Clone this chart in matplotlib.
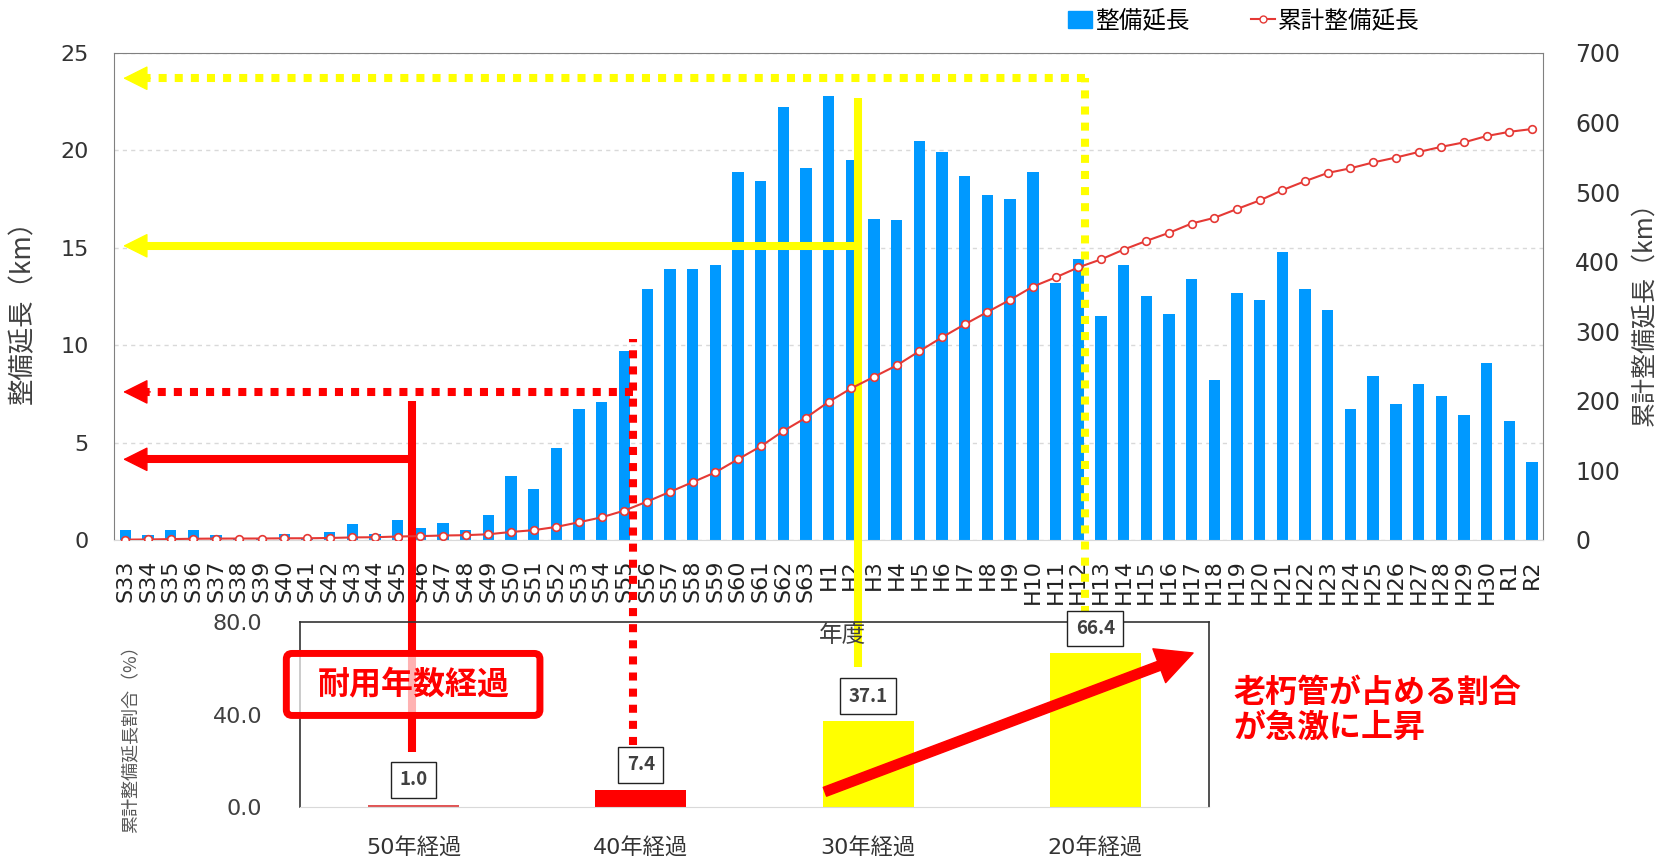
import numpy as np
import matplotlib.pyplot as plt
from matplotlib.patches import FancyBboxPatch, Patch
from matplotlib.lines import Line2D
from matplotlib.ticker import FormatStrFormatter

plt.rcParams['font.family'] = ['DejaVu Sans', 'Noto Sans CJK JP']

# 年度
years = ['S33', 'S34', 'S35', 'S36', 'S37', 'S38', 'S39', 'S40', 'S41', 'S42',
         'S43', 'S44', 'S45', 'S46', 'S47', 'S48', 'S49', 'S50', 'S51', 'S52',
         'S53', 'S54', 'S55', 'S56', 'S57', 'S58', 'S59', 'S60', 'S61', 'S62',
         'S63', 'H1', 'H2', 'H3', 'H4', 'H5', 'H6', 'H7', 'H8', 'H9',
         'H10', 'H11', 'H12', 'H13', 'H14', 'H15', 'H16', 'H17', 'H18', 'H19',
         'H20', 'H21', 'H22', 'H23', 'H24', 'H25', 'H26', 'H27', 'H28', 'H29',
         'H30', 'R1', 'R2']
# 整備延長 (km)
length = [0.5, 0.25, 0.5, 0.5, 0.25, 0.05, 0.05, 0.3, 0.05, 0.4,
          0.8, 0.3, 1.0, 0.6, 0.85, 0.5, 1.3, 3.3, 2.6, 4.7,
          6.7, 7.1, 9.7, 12.9, 13.9, 13.9, 14.1, 18.9, 18.4, 22.2,
          19.1, 22.8, 19.5, 16.5, 16.4, 20.5, 19.9, 18.7, 17.7, 17.5,
          18.9, 13.2, 14.4, 11.5, 14.1, 12.5, 11.6, 13.4, 8.2, 12.7,
          12.3, 14.8, 12.9, 11.8, 6.7, 8.4, 7.0, 8.0, 7.4, 6.4,
          9.1, 6.1, 4.0]
# 累計整備延長 (km)
total = np.cumsum(length)

# 経過年数ごとの累計整備延長割合 (%)
periods = ['50年経過', '40年経過', '30年経過', '20年経過']
share = [1.0, 7.4, 37.1, 66.4]
share_colors = ['#e05555', '#ff0000', '#ffff00', '#ffff00']

BLUE = '#0099ff'
LINE = '#e53935'
RED = '#ff0000'
YEL = '#ffff00'

fig = plt.figure(figsize=(16.6, 8.59), dpi=100)
ax = fig.add_axes([0.0687, 0.3714, 0.861, 0.567])
x = np.arange(len(years))
ax.bar(x, length, width=0.5, color=BLUE, zorder=2)
ax.set_xlim(-0.5, len(years) - 0.5)
ax.set_ylim(0, 25)
ax.set_yticks(np.arange(0, 26, 5))
ax.set_xticks(x)
ax.set_xticklabels(years, rotation=90, fontsize=16, color='#222222')
ax.tick_params(axis='x', length=0, pad=14)
ax.tick_params(axis='y', length=0, pad=18, labelsize=16, labelcolor='#333333')
ax.grid(axis='y', color='#d9d9d9', linestyle=(0, (3, 3)), linewidth=1, zorder=0)
for s in ['left', 'top', 'right']:
    ax.spines[s].set_color('#808080')
ax.spines['bottom'].set_color('#d9d9d9')

ax2 = ax.twinx()
ax2.plot(x, total, color=LINE, lw=1.5, marker='o', ms=5.5, mfc='white',
         mec=LINE, mew=1.2, zorder=3)
ax2.set_ylim(0, 700)
ax2.set_yticks(np.arange(0, 701, 100))
ax2.tick_params(length=0, pad=23, labelsize=17, labelcolor='#333333')
for s in ax2.spines.values():
    s.set_visible(False)

# 耐用年数の矢印
tip = -0.1
def guide(xv, y_top, y_bot, y_arrow, color, dotted):
    ls = (0, (1, 1)) if dotted else '-'
    kw = dict(color=color, lw=5.8, ls=ls, clip_on=False, zorder=5,
              solid_capstyle='butt')
    ax.plot([xv, xv], [y_bot, y_top], **kw)
    ax.plot([xv, tip + 0.9], [y_arrow, y_arrow], **kw)
    ax.annotate('', xy=(tip, y_arrow), xytext=(tip + 1.2, y_arrow),
                arrowprops=dict(arrowstyle='-|>,head_length=0.8,head_width=0.4',
                                mutation_scale=20, color=color, lw=1,
                                shrinkA=0, shrinkB=0),
                annotation_clip=False, zorder=6)

guide(12.65, 7.15, -10.86, 4.14, RED, False)
guide(22.38, 10.3, -10.52, 7.6, RED, True)
guide(32.3, 22.7, -6.52, 15.1, YEL, False)
guide(42.3, 23.7, -3.8, 23.7, YEL, True)

# 小さいグラフ
axi = fig.add_axes([0.1807, 0.0605, 0.5476, 0.2154])
axi.patch.set_alpha(0)
xi = np.arange(len(periods))
axi.bar(xi, share, width=0.4, color=share_colors, zorder=2)
axi.set_xlim(-0.5, len(periods) - 0.5)
axi.set_ylim(0, 80)
axi.set_yticks([0, 40, 80])
axi.yaxis.set_major_formatter(FormatStrFormatter('%.1f'))
axi.set_xticks(xi)
axi.set_xticklabels(periods)
axi.tick_params(axis='y', length=0, pad=27, labelsize=16, labelcolor='#404040')
axi.tick_params(axis='x', length=0, pad=22, labelsize=16, labelcolor='#333333')
for s in ['left', 'top', 'right']:
    axi.spines[s].set_color('#333333')
    axi.spines[s].set_linewidth(1.2)
axi.spines['bottom'].set_color('#d9d9d9')

for xx, v in zip(xi, share):
    axi.annotate('%.1f' % v, (xx, v), xytext=(0, 18), textcoords='offset points',
                 ha='center', va='center', fontsize=13.5, fontweight='bold',
                 color='#404040', family='Noto Sans CJK JP',
                 bbox=dict(boxstyle='square,pad=0.45', fc='white', ec='#222222', lw=1),
                 annotation_clip=False, zorder=4)

axi.annotate('', xy=(3.43, 66.6), xytext=(1.81, 6.6),
             arrowprops=dict(arrowstyle='simple,head_length=26,head_width=26,tail_width=6.8',
                             mutation_scale=1, color=RED, shrinkA=0, shrinkB=0),
             annotation_clip=False, zorder=5)

axi.add_patch(FancyBboxPatch((-0.56, 39.6), 1.116, 26.8,
                             boxstyle='round,pad=0,rounding_size=0.025',
                             mutation_aspect=98, fc=(1, 1, 1, 0.7), ec=RED, lw=5,
                             clip_on=False, zorder=6))
axi.text(0, 53, '耐用年数経過', ha='center', va='center', fontsize=23,
         fontweight='bold', color=RED, family='Noto Sans CJK JP', zorder=7)

fig.text(1233 / 1660, 1 - 710 / 859, '老朽管が占める割合\nが急激に上昇', ha='left',
         va='center', fontsize=23, fontweight='bold', color=RED,
         family='Noto Sans CJK JP', linespacing=1.1)

# 軸ラベル
fig.text(23 / 1660, 1 - 305 / 859, '整備延長（km）', rotation=90, ha='center',
         va='center', fontsize=19, color='#404040', family='Noto Sans CJK JP')
fig.text(1645 / 1660, 1 - 308 / 859, '累計整備延長（km）', rotation=90, ha='center',
         va='center', fontsize=18, color='#404040', family='Noto Sans CJK JP')
fig.text(131 / 1660, 1 - 735 / 859, '累計整備延長割合（%）', rotation=90, ha='center',
         va='center', fontsize=13, color='#595959', family='Noto Sans CJK JP')
fig.text(842 / 1660, 1 - 636 / 859, '年度', ha='center', va='center', fontsize=17,
         color='#404040', family='Noto Sans CJK JP')

handles = [Patch(color=BLUE),
           Line2D([], [], color=LINE, lw=1.5, marker='o', ms=5, mfc='white', mec=LINE)]
fig.legend(handles, ['整備延長', '累計整備延長'], loc='center',
           bbox_to_anchor=(1244 / 1660, 1 - 21 / 859), ncol=2, frameon=False,
           prop=dict(family='Noto Sans CJK JP', size=17), handlelength=1.0,
           handletextpad=0.15, columnspacing=2.6)

fig.savefig('out.png', dpi=100)
